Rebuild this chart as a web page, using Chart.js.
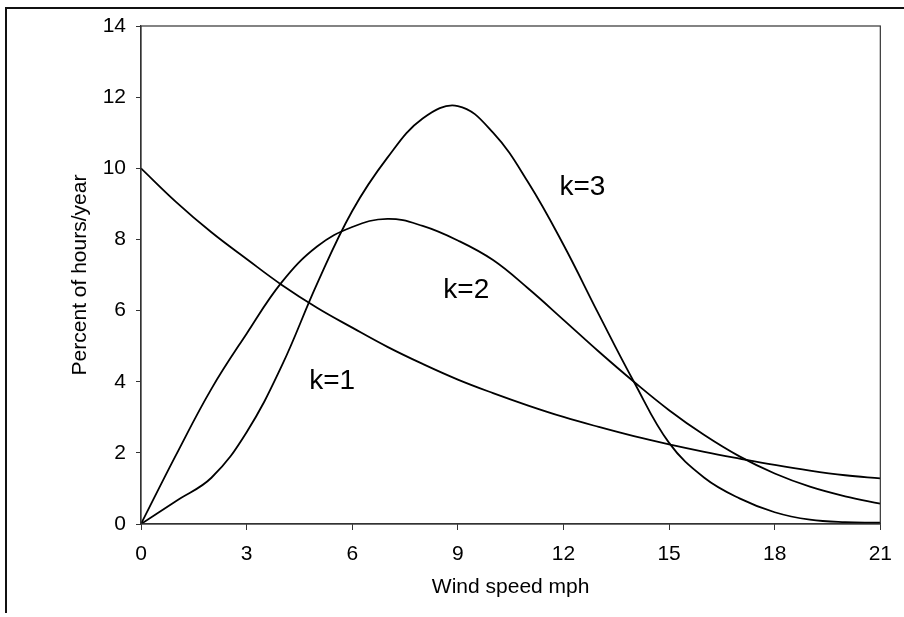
<!DOCTYPE html>
<html>
<head>
<meta charset="utf-8">
<script src="https://cdn.jsdelivr.net/npm/chart.js@4/dist/chart.umd.min.js"></script>
<style>
	body { margin: 0; background: #fff; }
	#wrap { width: 904px; height: 617px; position: relative; }
</style>
</head>
<body>
<div id="wrap"><canvas id="windChart"></canvas></div>
<script>
// wind speed (mph) and percent of hours/year
const windSpeed = [0, 1, 2, 3, 4, 5, 6, 7, 8, 9, 10, 11, 12, 13, 14, 15, 16, 17, 18, 19, 20, 21];
const k1Values = [10.0, 9.05, 8.2, 7.45, 6.72, 6.08, 5.52, 4.98, 4.5, 4.06, 3.68, 3.33, 3.01, 2.73, 2.47, 2.24, 2.03, 1.84, 1.66, 1.5, 1.37, 1.28];
const k2Values = [0, 1.95, 3.8, 5.35, 6.8, 7.8, 8.35, 8.58, 8.38, 7.97, 7.42, 6.62, 5.74, 4.85, 4.0, 3.2, 2.5, 1.9, 1.42, 1.05, 0.78, 0.57];
const k3Values = [0, 0.65, 1.3, 2.58, 4.45, 6.75, 8.8, 10.3, 11.4, 11.75, 11.0, 9.6, 7.85, 5.9, 4.0, 2.28, 1.3, 0.72, 0.33, 0.12, 0.05, 0.04];
const xTicks = [0, 3, 6, 9, 12, 15, 18, 21];
const yTicks = [0, 2, 4, 6, 8, 10, 12, 14];
const curveLabels = [
	{ text: 'k=1', x: 5.43, y: 4.0 },
	{ text: 'k=2', x: 9.24, y: 6.58 },
	{ text: 'k=3', x: 12.54, y: 9.47 }
];

const FONT = 'Liberation Sans, Arial, sans-serif';

function toPoints(values) {
	return windSpeed.map((v, i) => ({ x: v, y: values[i] }));
}

function curve(label, values) {
	return {
		label: label,
		data: toPoints(values),
		borderColor: '#000',
		borderWidth: 1.8,
		pointRadius: 0,
		tension: 0.4,
		fill: false
	};
}

// frame round the plot, outer page frame and the k= labels
const decorations = {
	id: 'decorations',
	beforeDraw(chart) {
		const c = chart.ctx;
		c.save();
		c.strokeStyle = '#111';
		c.lineWidth = 2;
		c.beginPath();
		c.moveTo(6, 613);
		c.lineTo(6, 8);
		c.lineTo(904, 8);
		c.stroke();
		c.restore();
	},
	afterDatasetsDraw(chart) {
		const c = chart.ctx;
		const a = chart.chartArea;
		c.save();
		c.strokeStyle = '#333';
		c.lineWidth = 1.2;
		c.strokeRect(a.left, a.top, a.right - a.left, a.bottom - a.top);
		c.fillStyle = '#000';
		c.font = '28px ' + FONT;
		c.textAlign = 'center';
		c.textBaseline = 'middle';
		curveLabels.forEach(l => {
			c.fillText(l.text, chart.scales.x.getPixelForValue(l.x), chart.scales.y.getPixelForValue(l.y));
		});
		c.restore();
	}
};

new Chart(document.getElementById('windChart'), {
	type: 'line',
	data: {
		datasets: [
			curve('k=1', k1Values),
			curve('k=2', k2Values),
			curve('k=3', k3Values)
		]
	},
	options: {
		responsive: true,
		maintainAspectRatio: false,
		animation: false,
		layout: { padding: { left: 64, top: 26, right: 23, bottom: 13 } },
		plugins: {
			legend: { display: false },
			tooltip: { enabled: false }
		},
		scales: {
			x: {
				type: 'linear',
				min: 0,
				max: 21,
				afterFit: s => { s.height = 80; },
				afterBuildTicks: s => { s.ticks = xTicks.map(v => ({ value: v })); },
				grid: { display: true, drawOnChartArea: false, tickLength: 6, color: '#333' },
				border: { display: true, color: '#333', width: 1.2 },
				ticks: { color: '#000', padding: 12, font: { family: FONT, size: 21 } },
				title: { display: true, text: 'Wind speed mph', color: '#000', font: { family: FONT, size: 21 } }
			},
			y: {
				min: 0,
				max: 14,
				afterFit: s => { s.width = 77; },
				afterBuildTicks: s => { s.ticks = yTicks.map(v => ({ value: v })); },
				grid: { display: true, drawOnChartArea: false, tickLength: 5, color: '#333' },
				border: { display: true, color: '#333', width: 1.2 },
				ticks: { color: '#000', padding: 10, font: { family: FONT, size: 21 } },
				title: { display: true, text: 'Percent of hours/year', color: '#000', font: { family: FONT, size: 21 } }
			}
		}
	},
	plugins: [decorations]
});
</script>
</body>
</html>
